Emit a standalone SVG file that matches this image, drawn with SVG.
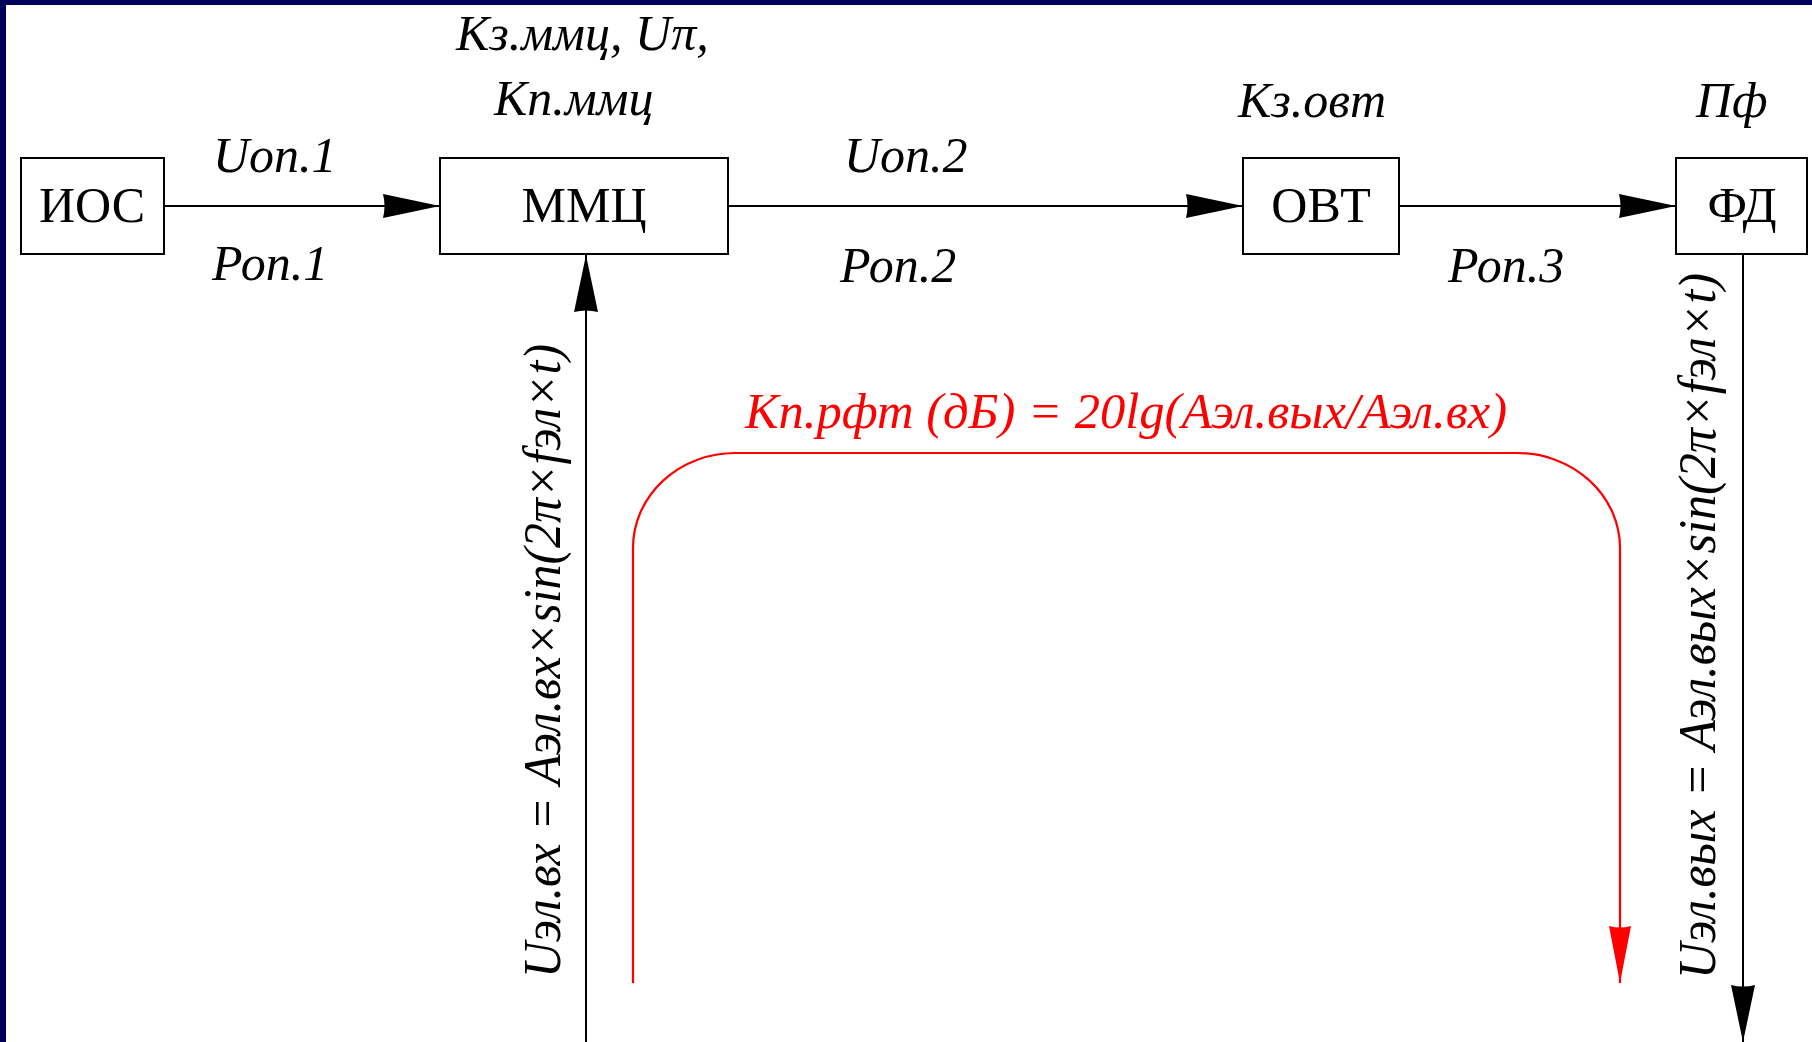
<svg xmlns="http://www.w3.org/2000/svg" width="1812" height="1042" viewBox="0 0 1812 1042" font-family="'Liberation Serif', 'Times New Roman', 'DejaVu Serif', serif">
  <style>
    text { font-family: 'Liberation Serif', 'Times New Roman', 'DejaVu Serif', serif; }
    .box { fill: #ffffff; stroke: #000000; stroke-width: 2; }
    .name { font-size: 50px; fill: #000000; text-anchor: middle; }
    .lbl { font-style: italic; font-size: 50px; fill: #000000; }
    .vlbl { font-style: italic; font-size: 52px; fill: #000000; }
    .red { font-style: italic; font-size: 50px; fill: #ff0000; }
    .wire { fill: none; stroke: #000000; stroke-width: 2; }
    .rwire { fill: none; stroke: #ff0000; stroke-width: 2.2; }
  </style>
  <defs>
    <marker id="arr" markerUnits="userSpaceOnUse" markerWidth="58" markerHeight="26" refX="57" refY="13" orient="auto">
      <path d="M0,1 L57,13 L0,25 Q3,13 0,1 z" fill="#000000"/>
    </marker>
    <marker id="arrRed" markerUnits="userSpaceOnUse" markerWidth="58" markerHeight="26" refX="57" refY="13" orient="auto">
      <path d="M0,2 L57,13 L0,24 Q3,13 0,2 z" fill="#ff0000"/>
    </marker>
  </defs>

  <!-- page background and frame -->
  <rect x="0" y="0" width="1812" height="1042" fill="#ffffff"/>
  <rect x="0" y="0" width="1812" height="5" fill="#00005a"/>
  <rect x="0" y="0" width="6" height="1042" fill="#00005a"/>

  <!-- connectors -->
  <g id="connectors">
    <line class="wire" x1="165" y1="206" x2="440" y2="206" marker-end="url(#arr)"/>
    <line class="wire" x1="728" y1="206" x2="1243" y2="206" marker-end="url(#arr)"/>
    <line class="wire" x1="1399" y1="206" x2="1676" y2="206" marker-end="url(#arr)"/>
    <line class="wire" x1="586" y1="1042" x2="586" y2="255" marker-end="url(#arr)"/>
    <line class="wire" x1="1743" y1="254" x2="1743" y2="1042" marker-end="url(#arr)"/>
    <path class="rwire" d="M633,983 L633,548 A102,95 0 0 1 735,453 L1517,453 A103,95 0 0 1 1620,548 L1620,983" marker-end="url(#arrRed)"/>
  </g>

  <!-- signal labels -->
  <g id="labels">
    <text class="lbl" x="456" y="50">Кз.ммц, Uπ,</text>
    <text class="lbl" x="494" y="115">Кп.ммц</text>
    <text class="lbl" x="213" y="172">Uоп.1</text>
    <text class="lbl" x="212" y="280">Роп.1</text>
    <text class="lbl" x="844" y="172">Uоп.2</text>
    <text class="lbl" x="840" y="282">Роп.2</text>
    <text class="lbl" x="1238" y="117">Кз.овт</text>
    <text class="lbl" x="1448" y="282">Роп.3</text>
    <text class="lbl" x="1696" y="117">Пф</text>
    <text class="red" x="745" y="428" textLength="762" lengthAdjust="spacingAndGlyphs">Кп.рфт (дБ) = 20lg(Аэл.вых/Аэл.вх)</text>
    <text class="vlbl" transform="translate(560,978) rotate(-90)" textLength="634" lengthAdjust="spacingAndGlyphs">Uэл.вх = Аэл.вх×sin(2π×fэл×t)</text>
    <text class="vlbl" transform="translate(1715,979) rotate(-90)" textLength="706" lengthAdjust="spacingAndGlyphs">Uэл.вых = Аэл.вых×sin(2π×fэл×t)</text>
  </g>

  <!-- blocks -->
  <g id="node-ios">
    <rect class="box" x="21" y="158" width="143" height="96"/>
    <text class="name" x="92" y="222">ИОС</text>
  </g>
  <g id="node-mmc">
    <rect class="box" x="440" y="158" width="288" height="96"/>
    <text class="name" x="584" y="222">ММЦ</text>
  </g>
  <g id="node-ovt">
    <rect class="box" x="1243" y="158" width="156" height="96"/>
    <text class="name" x="1321" y="222">ОВТ</text>
  </g>
  <g id="node-fd">
    <rect class="box" x="1676" y="158" width="131" height="96"/>
    <text class="name" x="1742" y="222">ФД</text>
  </g>
</svg>
